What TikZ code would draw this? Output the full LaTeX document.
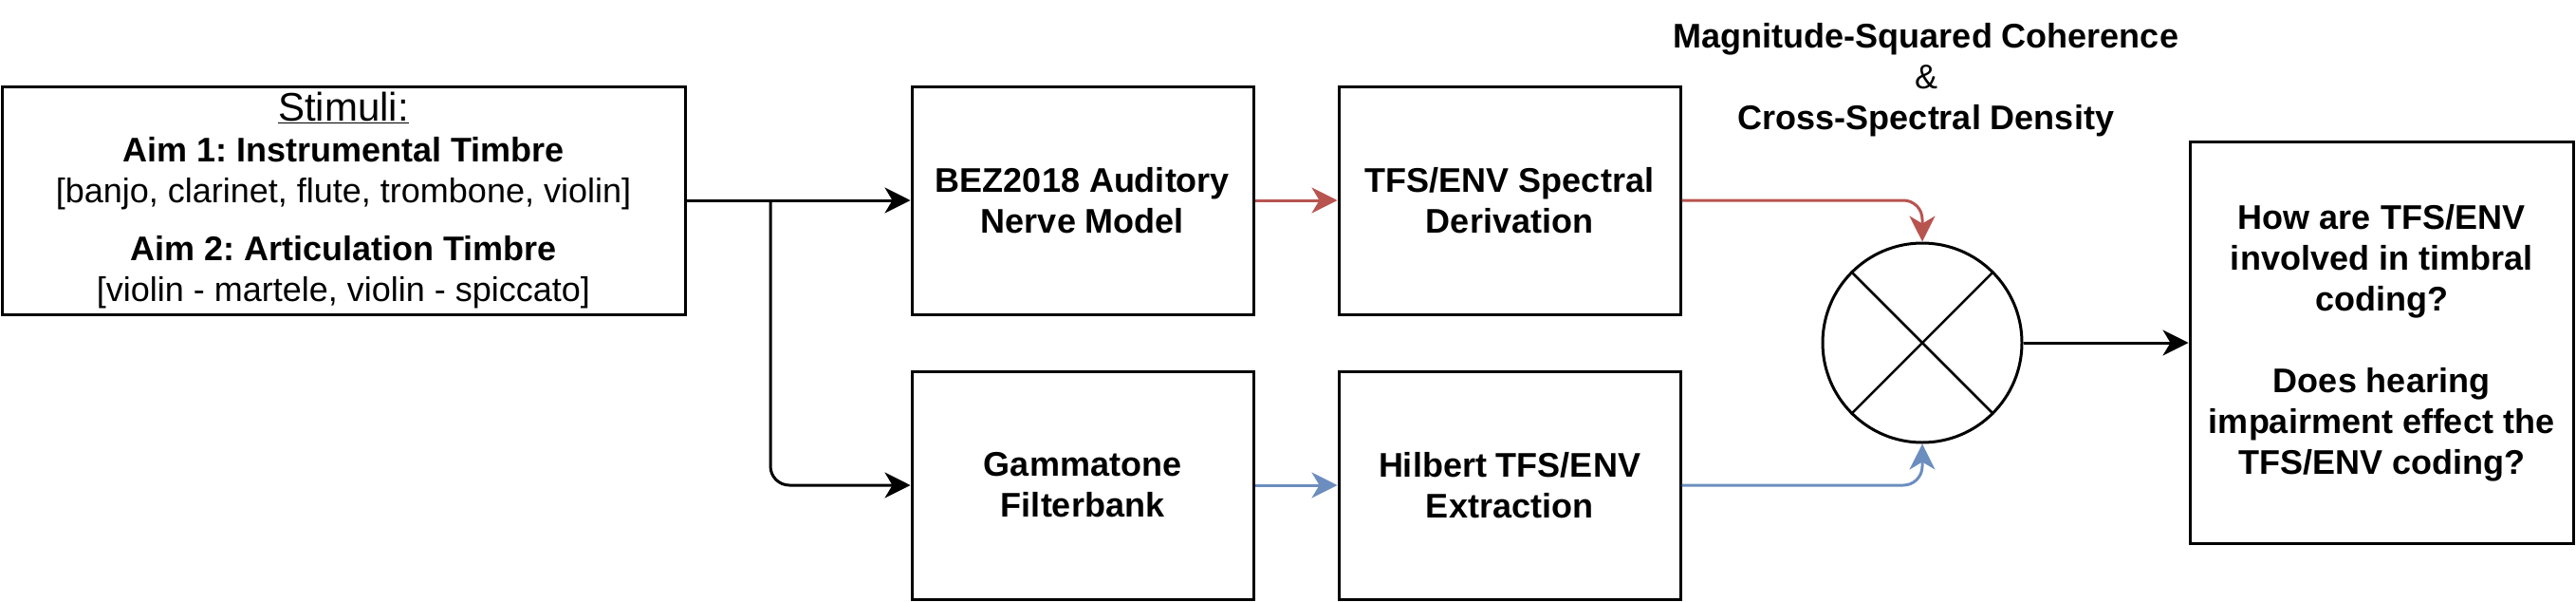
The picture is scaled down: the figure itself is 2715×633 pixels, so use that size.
\documentclass[tikz,border=0pt]{standalone}
\usepackage{fontspec}
\setmainfont{Liberation Sans}
\usetikzlibrary{arrows.meta}
\definecolor{redline}{HTML}{B85450}
\definecolor{blueline}{HTML}{6C8EBF}
\frenchspacing
\begin{document}
\begin{tikzpicture}[x=1pt,y=-1pt,
  base/.style={inner sep=0pt, align=center, font=\fontsize{36}{43}\selectfont},
  box/.style={base, draw, line width=3pt, font=\fontsize{36}{43}\selectfont\bfseries},
  conn/.style={line width=3pt, -{Stealth[length=27pt,width=27pt,inset=8pt]}, rounded corners=20pt},
]
\useasboundingbox (0,0) rectangle (2715,633);
\node[base, draw, line width=3pt, minimum width=720pt, minimum height=240pt] (stim) at (362,211)
  {{\fontsize{42}{43}\selectfont\underline{Stimuli:}}\\
   {\bfseries Aim 1: Instrumental Timbre}\\
   {[}banjo, clarinet, flute, trombone, violin{]}\\[18pt]
   {\bfseries Aim 2: Articulation Timbre}\\
   {[}violin - martele, violin - spiccato{]}};
\node[box, minimum width=360pt, minimum height=240pt] (bez) at (1141,211) {BEZ2018 Auditory\\Nerve Model};
\node[box, minimum width=360pt, minimum height=240pt] (tfs) at (1591,211) {TFS/ENV Spectral\\Derivation};
\node[box, minimum width=360pt, minimum height=240pt] (gam) at (1141,511) {Gammatone\\Filterbank};
\node[box, minimum width=360pt, minimum height=240pt] (hil) at (1591,511) {Hilbert TFS/ENV\\Extraction};
\node[draw, circle, line width=3pt, minimum size=210pt, inner sep=0pt] (mix) at (2026,361) {};
\draw[line width=2.5pt] (mix.45) -- (mix.225) (mix.135) -- (mix.315);
\node[box, minimum width=404pt, minimum height=423pt] (q) at (2510,361)
  {How are TFS/ENV\\involved in timbral\\coding?\\[43pt]Does hearing\\impairment effect the\\TFS/ENV coding?};
\node[base, font=\fontsize{36}{43}\selectfont\bfseries] (title) at (2030,84)
  {Magnitude-Squared Coherence\\{\mdseries\&}\\Cross-Spectral Density};
\coordinate (br) at (812,211);
\draw[conn] (stim.east) -- (bez.west);
\draw[conn] (br) |- (gam.west);
\draw[conn, redline] (bez.east) -- (tfs.west);
\draw[conn, blueline] (gam.east) -- (hil.west);
\draw[conn, redline] (tfs.east) -| (mix.north);
\draw[conn, blueline] (hil.east) -| (mix.south);
\draw[conn] (mix.east) -- (q.west);
\end{tikzpicture}
\end{document}
